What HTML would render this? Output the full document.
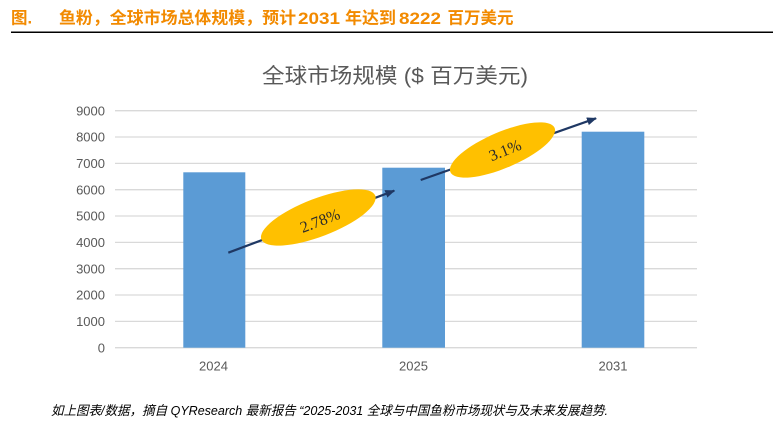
<!DOCTYPE html>
<html><head><meta charset="utf-8">
<style>
html,body{margin:0;padding:0;background:#fff;}
svg{display:block;}
</style></head>
<body>
<svg width="773" height="436" viewBox="0 0 773 436" xmlns="http://www.w3.org/2000/svg">
<defs>
<marker id="ah" markerWidth="10" markerHeight="8" refX="9" refY="4" orient="auto" markerUnits="userSpaceOnUse">
<path d="M0,0 L10,4 L0,8 Z" fill="#1f3864"/>
</marker>
</defs>
<rect width="773" height="436" fill="#fff"/>
<!-- Header -->
<text font-family="'Liberation Sans','Noto Sans CJK SC',sans-serif" font-weight="bold" font-size="16.5" fill="#f28a00">
<tspan x="11" y="23.5">图.</tspan>
<tspan x="59" y="23.5" textLength="237" lengthAdjust="spacingAndGlyphs">鱼粉，全球市场总体规模，预计</tspan>
<tspan x="298" y="24" textLength="42" lengthAdjust="spacingAndGlyphs">2031</tspan>
<tspan x="345" y="23.5" textLength="51" lengthAdjust="spacingAndGlyphs">年达到</tspan>
<tspan x="399" y="24" textLength="42" lengthAdjust="spacingAndGlyphs">8222</tspan>
<tspan x="447.5" y="23.5" textLength="66" lengthAdjust="spacingAndGlyphs">百万美元</tspan>
</text>
<rect x="11" y="31.5" width="762" height="1.5" fill="#000"/>

<!-- Chart title -->
<text x="262" y="83" font-family="'Liberation Sans','Noto Sans CJK SC',sans-serif" font-size="21" fill="#595959" textLength="266" lengthAdjust="spacingAndGlyphs">全球市场规模 ($ 百万美元)</text>

<!-- Gridlines -->
<g stroke="#d9d9d9" stroke-width="1.3">
<line x1="115" x2="697" y1="110.7" y2="110.7"/>
<line x1="115" x2="697" y1="137.0" y2="137.0"/>
<line x1="115" x2="697" y1="163.4" y2="163.4"/>
<line x1="115" x2="697" y1="189.7" y2="189.7"/>
<line x1="115" x2="697" y1="216.0" y2="216.0"/>
<line x1="115" x2="697" y1="242.4" y2="242.4"/>
<line x1="115" x2="697" y1="268.7" y2="268.7"/>
<line x1="115" x2="697" y1="295.0" y2="295.0"/>
<line x1="115" x2="697" y1="321.4" y2="321.4"/>
<line x1="115" x2="697" y1="347.7" y2="347.7"/>
</g>

<!-- Y labels -->
<g font-family="'Liberation Sans',sans-serif" font-size="13" fill="#595959" text-anchor="end">
<text x="105" y="115.3">9000</text>
<text x="105" y="141.6">8000</text>
<text x="105" y="168.0">7000</text>
<text x="105" y="194.3">6000</text>
<text x="105" y="220.6">5000</text>
<text x="105" y="247.0">4000</text>
<text x="105" y="273.3">3000</text>
<text x="105" y="299.6">2000</text>
<text x="105" y="326.0">1000</text>
<text x="105" y="352.3">0</text>
</g>

<!-- Bars -->
<g fill="#5b9bd5">
<rect x="183.3" y="172.3" width="62" height="175.4"/>
<rect x="382.3" y="167.7" width="62.7" height="180"/>
<rect x="581.7" y="131.7" width="62.6" height="216"/>
</g>

<!-- X labels -->
<g font-family="'Liberation Sans',sans-serif" font-size="13" fill="#595959" text-anchor="middle">
<text x="213.5" y="370.3">2024</text>
<text x="413.5" y="370.3">2025</text>
<text x="613" y="370.3">2031</text>
</g>

<!-- Arrows -->
<g stroke="#1f3864" stroke-width="2.2" fill="none">
<line x1="228.3" y1="252.7" x2="394.3" y2="190.7" marker-end="url(#ah)"/>
<line x1="420.7" y1="180" x2="596" y2="118.3" marker-end="url(#ah)"/>
</g>

<!-- Ellipses -->
<ellipse cx="318.3" cy="217.5" rx="61" ry="19" fill="#ffc000" transform="rotate(-21 318.3 217.5)"/>
<ellipse cx="502.5" cy="150" rx="56.6" ry="18" fill="#ffc000" transform="rotate(-23 502.5 150)"/>

<g font-family="'Liberation Serif',serif" font-size="16" fill="#2b2b2b" text-anchor="middle">
<text x="320" y="226" transform="rotate(-21 320 220.7)">2.78%</text>
<text x="505" y="155.5" transform="rotate(-22 505 150)">3.1%</text>
</g>

<!-- Footer -->
<text x="51" y="415" font-family="'Liberation Sans','Noto Sans CJK SC',sans-serif" font-style="italic" font-size="13" fill="#000" textLength="557" lengthAdjust="spacingAndGlyphs">如上图表/数据，摘自 QYResearch 最新报告 “2025-2031 全球与中国鱼粉市场现状与及未来发展趋势.</text>
</svg>
</body></html>
